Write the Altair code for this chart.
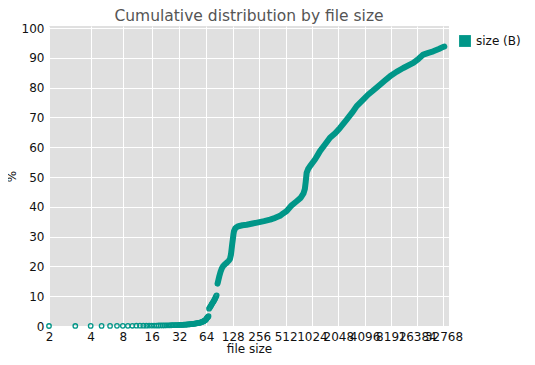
import altair as alt
import pandas as pd

TEAL = "#009688"
FONT = "DejaVu Sans"

# discrete, sparse part of the distribution (file size in bytes, cumulative %)
low_sizes = [2, 3, 4, 5, 6, 7, 8, 9, 10,
             11, 12, 13, 14, 15, 16, 17, 18, 19, 20,
             21, 22, 23, 24, 25, 26, 27, 28, 29, 30,
             31, 32, 33, 34, 35, 36, 37, 38, 39, 40,
             41, 42, 43, 44, 45, 46, 47, 48, 49, 50,
             51, 52, 53, 54, 55, 56, 57, 58, 59, 60,
             61, 62, 63, 64, 65, 66, 67, 68]
low_pct = [0.0, 0.01, 0.02, 0.03, 0.04, 0.05, 0.06, 0.07, 0.08,
           0.09, 0.10, 0.11, 0.12, 0.13, 0.14, 0.15, 0.16, 0.17, 0.18,
           0.19, 0.20, 0.22, 0.23, 0.24, 0.25, 0.27, 0.28, 0.29, 0.30,
           0.32, 0.34, 0.36, 0.38, 0.40, 0.42, 0.44, 0.47, 0.50, 0.53,
           0.56, 0.59, 0.62, 0.65, 0.68, 0.72, 0.76, 0.80, 0.85, 0.90,
           0.95, 1.0, 1.05, 1.1, 1.17, 1.25, 1.33, 1.42, 1.52, 1.62,
           1.75, 1.9, 2.05, 2.3, 2.6, 2.85, 3.05, 3.3]

mid_sizes = [69, 70, 71, 72, 73, 74, 75, 76, 77, 78, 79, 80, 81, 82, 83, 84]
mid_pct = [5.8, 6.1, 6.4, 6.7, 7.0, 7.3, 7.6, 7.85, 8.1, 8.4, 8.7, 9.0, 9.35, 9.7, 10.0, 10.3]

# dense part (markers merge into a continuous band)
curve_sizes = [86, 88, 90, 93, 96, 100, 105, 109, 115, 119, 122, 124, 126, 128, 130, 132,
               136, 142, 148, 165, 184, 215, 250, 290, 340, 390, 442, 480, 527, 600,
               680, 760, 820, 850, 870, 890, 930, 972, 1040, 1109, 1180, 1265, 1450, 1646,
               1900, 2143, 2556, 2950, 3327, 3900, 4516, 5300, 6148, 7000, 8000, 9500,
               11355, 14785, 17000, 19240, 22000, 25040, 29000, 32590, 33500]
curve_pct = [14.2, 15.5, 16.7, 18.2, 19.3, 20.2, 20.8, 21.2, 21.9, 22.5, 24.0, 25.7, 27.5, 29.0, 30.6, 31.8,
             32.7, 33.2, 33.5, 33.8, 34.0, 34.4, 34.8, 35.2, 35.7, 36.3, 37.0, 37.8, 38.6, 40.5,
             41.8, 43.0, 44.5, 46.0, 48.5, 51.4, 52.8, 53.6, 54.8, 55.9, 57.2, 58.7, 61.0, 63.2,
             64.8, 66.5, 69.3, 71.6, 73.8, 75.8, 77.7, 79.4, 81.0, 82.4, 83.8, 85.3,
             86.6, 88.3, 89.7, 91.1, 91.7, 92.2, 93.0, 93.7, 93.8]

tick_labels = [2, 4, 8, 16, 32, 64, 128, 256, 512, 1024, 2048, 4096, 8192, 16384, 32768]
y_ticks = [0, 10, 20, 30, 40, 50, 60, 70, 80, 90, 100]
series_name = "size (B)"

pts = pd.DataFrame({"size": low_sizes + mid_sizes, "pct": low_pct + mid_pct})
crv = pd.DataFrame({"size": curve_sizes, "pct": curve_pct})
leg = pd.DataFrame({"series": [series_name], "size": [2], "pct": [0]})

tick_vals = [t - 1 for t in tick_labels]

x_enc = alt.X(
    "off:Q",
    scale=alt.Scale(type="log", base=2, domain=[1, 37900], nice=False),
    axis=alt.Axis(values=tick_vals, labelExpr="format(datum.value + 1, 'd')",
                  title="file size", grid=True, labelOverlap=False, labelFlush=False,
                  labelBound=False, labelPadding=5, titlePadding=1),
)
y_enc = alt.Y(
    "pct:Q",
    scale=alt.Scale(domain=[0, 100.7], nice=False, zero=False),
    axis=alt.Axis(values=y_ticks, title="%", labelPadding=5, titlePadding=3),
)

points = alt.Chart(pts).transform_calculate(off="datum.size - 1").mark_point(
    shape="circle", filled=False, size=20, strokeWidth=1.3, color=TEAL, opacity=1
).encode(x=x_enc, y=y_enc)

line = alt.Chart(crv).transform_calculate(off="datum.size - 1").mark_line(
    color=TEAL, strokeWidth=6, strokeCap="round", strokeJoin="round"
).encode(x=x_enc, y=y_enc)

legend_layer = alt.Chart(leg).transform_calculate(off="datum.size - 1").transform_filter(
    "datum.pct > 1000"
).mark_square(filled=True, opacity=1).encode(
    x=x_enc, y=y_enc,
    color=alt.Color("series:N", scale=alt.Scale(domain=[series_name], range=[TEAL]),
                    legend=alt.Legend(title=None, orient="none", legendX=410, legendY=9,
                                      symbolType="square", symbolSize=140,
                                      symbolStrokeWidth=0, symbolOpacity=1,
                                      labelFontSize=12,
                                      labelOffset=5, padding=0, labelFont=FONT,
                                      labelColor="#111111")),
)

chart = alt.layer(legend_layer, line, points).properties(
    width=400, height=300,
    autosize=alt.AutoSizeParams(type="none"),
    padding={"left": 41, "top": 18, "right": 78, "bottom": 31},
    title=alt.Title("Cumulative distribution by file size", fontSize=15.5, font=FONT,
                    fontWeight="normal", color="#555555", anchor="middle", offset=5, dy=7),
).configure_view(fill="#E0E0E0", strokeWidth=0).configure_axis(
    domain=False, ticks=False, gridColor="#FFFFFF", gridWidth=1,
    labelFont=FONT, labelFontSize=12, labelColor="#111111",
    titleFont=FONT, titleFontSize=12, titleColor="#111111", titleFontWeight="normal",
)

chart.save("out.html", embed_options={"renderer": "svg", "actions": False})
